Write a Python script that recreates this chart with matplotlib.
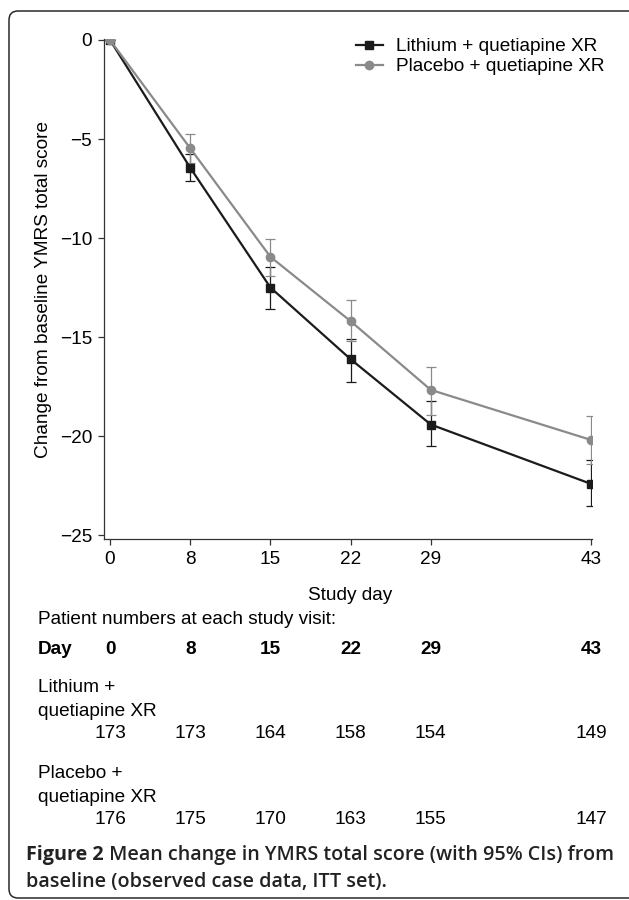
import matplotlib
matplotlib.use("Agg")
import matplotlib.pyplot as plt
import matplotlib.patches as mpatches
from matplotlib.transforms import blended_transform_factory

plt.rcParams['font.family'] = ['Liberation Sans', 'DejaVu Sans']

# data
days = [0, 8, 15, 22, 29, 43]
lith_mean = [0, -6.45, -12.5, -16.12, -19.42, -22.42]
lith_lo = [0, -7.13, -13.58, -17.25, -20.5, -23.53]
lith_hi = [0, -5.75, -11.45, -15.08, -18.22, -21.22]
plac_mean = [0, -5.47, -10.95, -14.2, -17.67, -20.2]
plac_lo = [0, -6.22, -11.93, -15.2, -18.92, -21.42]
plac_hi = [0, -4.75, -10.03, -13.13, -16.5, -18.97]
lith_n = [173, 173, 164, 158, 154, 149]
plac_n = [176, 175, 170, 163, 155, 147]

# visits are drawn on a weekly grid (day 43 sits two slots after day 29)
xpos = [d // 7 for d in days]

BLACK = '#1b1b1b'
GRAY = '#8a8a8a'
FS = 13.7

fig = plt.figure(figsize=(6.29, 9), dpi=100)
ax = fig.add_axes([104/629, 1-539/900, (592-104)/629, (539-39)/900])

ax.errorbar(xpos, lith_mean,
            yerr=[[m - l for m, l in zip(lith_mean, lith_lo)],
                  [h - m for m, h in zip(lith_mean, lith_hi)]],
            fmt='none', ecolor=BLACK, elinewidth=0.9, capsize=3.3, capthick=0.9, zorder=2)
ax.errorbar(xpos, plac_mean,
            yerr=[[m - l for m, l in zip(plac_mean, plac_lo)],
                  [h - m for m, h in zip(plac_mean, plac_hi)]],
            fmt='none', ecolor=GRAY, elinewidth=0.9, capsize=3.3, capthick=0.9, zorder=2)
l1, = ax.plot(xpos, lith_mean, color=BLACK, lw=1.6, marker='s', ms=5.5,
              label='Lithium + quetiapine XR', zorder=3)
l2, = ax.plot(xpos, plac_mean, color=GRAY, lw=1.6, marker='o', ms=6,
              label='Placebo + quetiapine XR', zorder=4)

ax.set_xlim(-0.075, 6.01)
ax.set_ylim(-25.2, 0.05)
ax.set_xticks(xpos)
ax.set_xticklabels([str(d) for d in days])
ax.set_yticks([0, -5, -10, -15, -20, -25])
for s in ['top', 'right']:
    ax.spines[s].set_visible(False)
for s in ['left', 'bottom']:
    ax.spines[s].set_linewidth(0.9)
    ax.spines[s].set_color('#333333')
ax.tick_params(labelsize=FS, length=4.5, width=0.9, color='#333333', pad=4)
ax.set_ylabel('Change from baseline YMRS total score', fontsize=FS)
ax.yaxis.set_label_coords(-0.107, 0.5)

fig.legend(handles=[l1, l2], loc='upper left', bbox_to_anchor=(356/629, 1-38/900),
           frameon=False, fontsize=FS, handlelength=1.4, handletextpad=0.7,
           labelspacing=0.15, borderpad=0, borderaxespad=0)

# text block under the plot
def ftxt(x, y, s, **kw):
    fig.text(x/629, 1-y/900, s, fontsize=FS, va='center', **kw)

ftxt(350, 595, 'Study day', ha='center')
ftxt(38, 619, 'Patient numbers at each study visit:')
ftxt(38, 650, 'Day', fontweight='bold')
ftxt(38, 688, 'Lithium +')
ftxt(38, 711, 'quetiapine XR')
ftxt(38, 773, 'Placebo +')
ftxt(38, 797, 'quetiapine XR')

tr = blended_transform_factory(ax.transData, fig.transFigure)
for x, d, a, b in zip(xpos, days, lith_n, plac_n):
    ax.text(x, 1-650/900, str(d), transform=tr, ha='center', va='center',
            fontsize=FS, fontweight='bold', clip_on=False)
    ax.text(x, 1-733/900, str(a), transform=tr, ha='center', va='center',
            fontsize=FS, clip_on=False)
    ax.text(x, 1-819/900, str(b), transform=tr, ha='center', va='center',
            fontsize=FS, clip_on=False)

# caption
cap_font = ['Open Sans', 'DejaVu Sans']
CFS = 14.2
t1 = fig.text(26/629, 1-855/900, 'Figure 2', fontsize=CFS, fontweight='bold',
              family=cap_font, va='center', color='#222222')
ax.annotate(' Mean change in YMRS total score (with 95% CIs) from', xy=(1, 0.5),
            xycoords=t1, va='center', fontsize=CFS, fontweight='semibold',
            family=cap_font, color='#222222', annotation_clip=False)
fig.text(26/629, 1-882/900, 'baseline (observed case data, ITT set).', fontsize=CFS,
         fontweight='semibold', family=cap_font, va='center', color='#222222')

# rounded frame around the figure, open on the right
frame = mpatches.FancyBboxPatch((0.09, 0.02), 6.5, 8.87,
                                boxstyle='round,pad=0,rounding_size=0.09',
                                transform=fig.dpi_scale_trans, fill=False,
                                lw=1.1, ec='#2a2a2a')
fig.patches.append(frame)

fig.savefig('out.png', dpi=100)
